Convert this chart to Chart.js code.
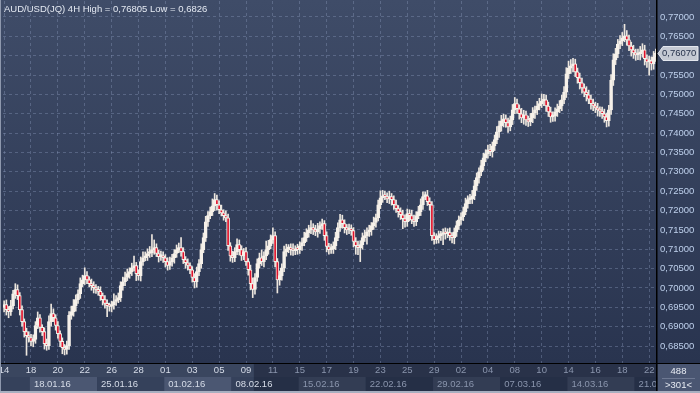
<!DOCTYPE html>
<html>
<head>
<meta charset="utf-8">
<script src="https://cdn.jsdelivr.net/npm/chart.js@4.4.1/dist/chart.umd.min.js"></script>
<style>
  html, body { margin: 0; padding: 0; background: #2e3a56; }
  #wrap { width: 700px; height: 393px; position: relative; }
</style>
</head>
<body>
<div id="wrap"><canvas id="candles"></canvas></div>
<script>
// AUD/USD(JQ) 4H - six candles per trading day
const days = ['14.01','15.01','18.01','19.01','20.01','21.01','22.01','25.01','26.01','27.01','28.01','29.01',
  '01.02','02.02','03.02','04.02','05.02','08.02','09.02','10.02','11.02','12.02','15.02','16.02','17.02','18.02','19.02',
  '22.02','23.02','24.02','25.02','26.02','29.02','01.03','02.03','03.03','04.03','07.03','08.03','09.03','10.03','11.03',
  '14.03','15.03','16.03','17.03','18.03','21.03','22.03'];
const hours = ['00:00','04:00','08:00','12:00','16:00','20:00'];
const weeks = ['18.01.16','25.01.16','01.02.16','08.02.16','15.02.16','22.02.16','29.02.16','07.03.16','14.03.16','21.03.16'];
const priceTicks = [0.685,0.690,0.695,0.700,0.705,0.710,0.715,0.720,0.725,0.730,0.735,0.740,0.745,0.750,0.755,0.760,0.765,0.770];

const firstOpen = 0.6950;
const closes = [
  0.6957,0.6944,0.6939,0.6954,0.6985,0.6996, 0.6980,0.6944,0.6913,0.6887,0.6877,0.6872,
  0.6862,0.6867,0.6903,0.6923,0.6898,0.6887, 0.6856,0.6851,0.6913,0.6934,0.6923,0.6903,
  0.6882,0.6862,0.6846,0.6841,0.6851,0.6929, 0.6939,0.6954,0.6970,0.6985,0.7011,0.7021,
  0.7032,0.7021,0.7011,0.7006,0.7001,0.6996, 0.6991,0.6980,0.6970,0.6960,0.6954,0.6952,
  0.6957,0.6965,0.6970,0.6975,0.7006,0.7016, 0.7027,0.7037,0.7042,0.7052,0.7058,0.7037,
  0.7032,0.7068,0.7078,0.7083,0.7089,0.7091, 0.7099,0.7104,0.7089,0.7081,0.7083,0.7078,
  0.7068,0.7058,0.7068,0.7078,0.7089,0.7099, 0.7104,0.7094,0.7073,0.7065,0.7058,0.7047,
  0.7027,0.7016,0.7042,0.7063,0.7099,0.7130, 0.7171,0.7187,0.7197,0.7212,0.7228,0.7215,
  0.7202,0.7194,0.7187,0.7181,0.7109,0.7083, 0.7078,0.7094,0.7112,0.7099,0.7083,0.7094,
  0.7068,0.7047,0.7011,0.6996,0.7027,0.7063, 0.7078,0.7068,0.7083,0.7099,0.7109,0.7125,
  0.7135,0.7068,0.7021,0.7032,0.7052,0.7094, 0.7101,0.7104,0.7099,0.7096,0.7101,0.7099,
  0.7109,0.7117,0.7130,0.7143,0.7150,0.7156, 0.7150,0.7145,0.7153,0.7161,0.7166,0.7135,
  0.7107,0.7099,0.7101,0.7109,0.7130,0.7156, 0.7176,0.7166,0.7156,0.7150,0.7153,0.7148,
  0.7120,0.7109,0.7104,0.7112,0.7130,0.7135, 0.7145,0.7150,0.7161,0.7169,0.7181,0.7215,
  0.7233,0.7238,0.7236,0.7230,0.7236,0.7228, 0.7215,0.7205,0.7197,0.7189,0.7179,0.7171,
  0.7192,0.7187,0.7176,0.7171,0.7187,0.7197, 0.7215,0.7236,0.7238,0.7223,0.7215,0.7135,
  0.7125,0.7130,0.7135,0.7138,0.7143,0.7140, 0.7143,0.7135,0.7130,0.7145,0.7161,0.7176,
  0.7184,0.7197,0.7218,0.7228,0.7230,0.7238, 0.7264,0.7285,0.7300,0.7316,0.7336,0.7347,
  0.7357,0.7352,0.7367,0.7383,0.7403,0.7419, 0.7432,0.7437,0.7427,0.7416,0.7434,0.7460,
  0.7476,0.7463,0.7450,0.7439,0.7447,0.7434, 0.7429,0.7439,0.7452,0.7460,0.7470,0.7476,
  0.7483,0.7486,0.7470,0.7455,0.7442,0.7445, 0.7455,0.7463,0.7470,0.7486,0.7506,0.7553,
  0.7568,0.7574,0.7579,0.7558,0.7543,0.7530, 0.7517,0.7506,0.7499,0.7488,0.7476,0.7470,
  0.7465,0.7460,0.7457,0.7450,0.7442,0.7432, 0.7460,0.7537,0.7589,0.7605,0.7630,0.7638,
  0.7646,0.7651,0.7641,0.7625,0.7615,0.7607, 0.7602,0.7605,0.7610,0.7615,0.7592,0.7584,
  0.7587,0.7579,0.7597,0.7607
];
// shadows above / below the body, in pips
const wickUp = [
  10,12,8,14,9,15, 12,8,10,7,9,10, 8,12,10,15,8,7, 10,12,15,24,12,8, 10,7,9,8,12,10, 14,16,12,10,15,12,
  20,10,8,12,10,8, 8,12,7,10,9,7, 9,20,10,12,10,12, 14,12,10,12,24,8, 10,12,15,10,12,16, 39,20,10,9,12,10,
  8,10,12,9,10,12, 12,26,10,8,10,7, 8,10,12,10,15,12, 14,10,12,18,16,12, 10,12,8,12,10,8, 12,10,15,12,10,8,
  10,8,12,15,10,12, 12,20,10,22,14,12, 20,10,8,12,10,14, 12,8,10,15,8,12, 10,12,14,10,12,18, 10,12,14,10,12,8,
  10,8,12,10,14,12, 14,12,10,8,12,10, 8,10,12,10,12,14, 10,12,8,14,10,12, 18,14,12,10,14,8, 10,12,8,10,12,10,
  12,10,14,12,10,14, 15,12,10,14,10,8, 8,10,12,8,10,12, 10,12,8,10,12,10, 10,12,14,10,12,14, 14,12,10,14,12,10,
  12,14,10,12,14,12, 14,12,10,12,10,14, 16,12,10,14,12,10, 10,12,14,10,12,14, 18,14,12,10,12,10, 10,12,14,12,14,16,
  18,16,14,12,10,12, 12,10,14,12,10,12, 10,12,8,10,12,10, 12,14,16,14,12,14, 14,30,14,12,10,12, 10,12,14,16,12,10,
  12,10,14,10
];
const wickDown = [
  12,14,16,10,8,12, 10,14,12,14,51,12, 12,14,10,8,12,10, 14,12,10,12,10,12, 12,14,16,14,12,10, 10,12,14,10,12,8,
  12,10,8,12,14,10, 10,12,14,12,28,12, 14,12,10,8,10,12, 10,8,12,10,8,18, 12,14,10,8,12,10, 10,12,8,14,10,12,
  14,12,10,12,14,10, 8,12,10,14,12,10, 12,16,14,10,12,8, 10,12,8,10,12,14, 10,8,12,10,12,14, 12,10,8,14,12,10,
  10,14,16,21,12,10, 12,10,14,10,12,8, 10,14,34,14,12,10, 12,10,14,12,10,12, 10,12,8,10,12,10, 12,10,14,12,10,12,
  14,12,10,12,10,8, 10,12,14,12,10,12, 14,22,18,36,12,10, 22,12,14,10,12,8, 10,12,8,10,12,14, 12,10,14,12,26,14,
  12,14,10,12,10,8, 10,12,8,10,14,12, 12,10,14,12,26,14, 10,12,14,16,12,10, 12,10,8,12,10,12, 10,12,14,10,12,10,
  12,10,14,12,10,14, 14,16,12,14,10,12, 10,12,14,12,16,14, 12,10,12,14,12,10, 10,12,14,12,14,12, 14,12,10,12,10,14,
  12,14,16,12,14,16, 14,12,16,12,14,12, 12,16,14,12,14,16, 14,12,14,12,10,12, 12,10,14,12,16,14, 14,12,16,14,16,14,
  34,16,14,12
];

const shadeFrom = 112;   // candle index where the dimmed time-axis zone begins
const bull = '#f6f1ea', bear = '#e0122b';

const labels = closes.map((c, i) => days[Math.floor(i / 6)] + ' ' + hours[i % 6]);
const opens = closes.map((c, i) => i === 0 ? firstOpen : closes[i - 1]);
const bodies = closes.map((c, i) => [opens[i], c]);
const shadows = closes.map((c, i) => [
  Math.min(opens[i], c) - wickDown[i] / 10000,
  Math.max(opens[i], c) + wickUp[i] / 10000
]);
const FONT = { family: "'Liberation Sans', Arial, sans-serif", size: 9.5 };
const fmt = v => v.toFixed(5).replace('.', ',');

const chrome = {
  id: 'chrome',
  beforeDraw(chart) {
    const { ctx, chartArea: a, width, height, scales: { x } } = chart;
    const g = ctx.createLinearGradient(0, 0, 0, a.bottom);
    g.addColorStop(0, '#3f4c68');
    g.addColorStop(1, '#29344f');
    ctx.fillStyle = g;
    ctx.fillRect(0, 0, width, a.bottom);
    // time axis rows
    ctx.fillStyle = '#3a465f';
    ctx.fillRect(0, a.bottom, width, 14);
    ctx.fillStyle = '#35415b';
    ctx.fillRect(0, a.bottom + 14, width, height - a.bottom - 14);
    const half = (x.getPixelForValue(1) - x.getPixelForValue(0)) / 2;
    weeks.forEach((w, k) => {
      const s = days.indexOf(w.slice(0, 5)) * 6;
      const x0 = x.getPixelForValue(s) - half;
      const x1 = k + 1 < weeks.length ? x.getPixelForValue(days.indexOf(weeks[k + 1].slice(0, 5)) * 6) - half : a.right;
      ctx.fillStyle = k % 2 === 0 ? '#4b5772' : '#35415b';
      ctx.fillRect(x0, a.bottom + 14, x1 - x0, 14);
    });
    const xs = x.getPixelForValue(shadeFrom) - half;
    ctx.fillStyle = 'rgba(12,18,36,0.38)';
    ctx.fillRect(xs, a.bottom, a.right - xs, height - a.bottom);
  },
  afterDraw(chart) {
    const { ctx, chartArea: a, width, height, scales: { x, y } } = chart;
    const half = (x.getPixelForValue(1) - x.getPixelForValue(0)) / 2;
    ctx.save();
    ctx.font = `${FONT.size}px ${FONT.family}`;
    // week labels
    ctx.save();
    ctx.beginPath();
    ctx.rect(0, a.bottom, a.right - 1, height - a.bottom);
    ctx.clip();
    ctx.textBaseline = 'middle';
    ctx.textAlign = 'left';
    weeks.forEach(w => {
      const s = days.indexOf(w.slice(0, 5)) * 6;
      ctx.fillStyle = s >= shadeFrom ? '#8a95ad' : '#d6dce8';
      ctx.fillText(w, x.getPixelForValue(s) - half + 4, a.bottom + 21.5);
    });
    ctx.restore();
    // separators
    ctx.fillStyle = '#000';
    ctx.fillRect(0, a.bottom, width, 1);
    ctx.fillRect(a.right - 1, 0, 1.5, height);
    // counter box bottom right
    ctx.fillStyle = '#4a5672';
    ctx.fillRect(a.right + 1, a.bottom + 1, width - a.right - 1, height - a.bottom - 1);
    ctx.fillStyle = '#6d7892';
    ctx.fillRect(a.right + 5, a.bottom + 15, width - a.right - 10, 1);
    ctx.fillStyle = '#e8ecf3';
    ctx.textAlign = 'center';
    ctx.textBaseline = 'middle';
    const cx = (a.right + width) / 2;
    ctx.fillText('488', cx, a.bottom + 8);
    ctx.fillText('>301<', cx, a.bottom + 22);
    // frame
    ctx.fillStyle = '#8e98ad';
    ctx.fillRect(0, 0, 1, height);
    ctx.fillStyle = '#a7afc0';
    ctx.fillRect(0, height - 2, width, 2);
    // last price tag
    const last = closes[closes.length - 1];
    const py = Math.round(y.getPixelForValue(last)) + 0.5;
    ctx.beginPath();
    ctx.moveTo(a.right + 1, py);
    ctx.lineTo(a.right + 6, py - 7);
    ctx.lineTo(width - 2, py - 7);
    ctx.lineTo(width - 2, py + 7);
    ctx.lineTo(a.right + 6, py + 7);
    ctx.closePath();
    ctx.fillStyle = '#c4c9d3';
    ctx.fill();
    ctx.strokeStyle = '#e4e7ee';
    ctx.lineWidth = 1;
    ctx.stroke();
    ctx.fillStyle = '#26324c';
    ctx.textAlign = 'left';
    ctx.fillText(fmt(last), a.right + 5, py);
    // title
    ctx.fillStyle = '#e4e9f2';
    ctx.textBaseline = 'middle';
    ctx.fillText('AUD/USD(JQ) 4H High = 0,76805 Low = 0,6826', 4, 9);
    ctx.restore();
  }
};

const ctx = document.getElementById('candles').getContext('2d');
new Chart(ctx, {
  type: 'bar',
  data: {
    labels: labels,
    datasets: [{
      label: 'body',
      data: bodies,
      grouped: false,
      barThickness: 3,
      minBarLength: 2,
      borderWidth: 1,
      borderSkipped: false,
      borderColor: bull,
      backgroundColor: bodies.map(b => b[1] >= b[0] ? bull : bear)
    }, {
      label: 'shadow',
      data: shadows,
      grouped: false,
      barThickness: 1,
      borderWidth: 0,
      backgroundColor: '#ece6de'
    }]
  },
  options: {
    responsive: true,
    maintainAspectRatio: false,
    animation: false,
    events: [],
    layout: { padding: { left: 3, top: 1, right: 0, bottom: 0 } },
    plugins: { legend: { display: false }, tooltip: { enabled: false } },
    scales: {
      x: {
        offset: true,
        afterBuildTicks: s => { s.ticks = s.ticks.filter(t => t.value % 12 === 0); },
        afterFit: s => { s.height = 30; s.paddingLeft = 0; s.paddingRight = 0; },
        grid: { offset: false, drawTicks: false, color: 'rgba(140,156,188,0.38)' },
        border: { display: false, dash: [3, 3] },
        ticks: {
          autoSkip: false, maxRotation: 0, padding: 2, font: FONT,
          color: c => (c.tick && c.tick.value >= shadeFrom) ? '#8a95ad' : '#d6dce8',
          callback: function (v) { return this.getLabelForValue(v).slice(0, 2); }
        }
      },
      y: {
        position: 'right',
        min: 0.68061,
        max: 0.77413,
        afterBuildTicks: s => { s.ticks = priceTicks.map(v => ({ value: v })); },
        afterFit: s => { s.width = 43; s.paddingTop = 0; s.paddingBottom = 0; },
        grid: { drawTicks: false, color: 'rgba(140,156,188,0.38)' },
        border: { display: false, dash: [3, 3] },
        ticks: { padding: 3, font: FONT, color: '#bed0ec', callback: v => fmt(v) }
      }
    }
  },
  plugins: [chrome]
});
</script>
</body>
</html>
